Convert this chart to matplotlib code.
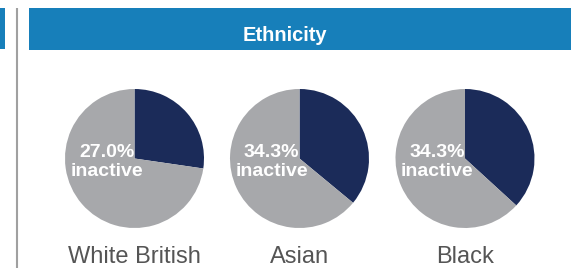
import matplotlib.pyplot as plt
from matplotlib.patches import Rectangle

plt.rcParams['font.family'] = ['Liberation Sans', 'DejaVu Sans']

# data
groups = ["White British", "Asian", "Black"]
inactive_label = [27.0, 34.3, 34.3]    # printed on the pies
inactive_slice = [27.3, 36.0, 36.8]    # share drawn as the dark slice
title = "Ethnicity"

NAVY = "#1b2b59"
GREY = "#a7a8ab"
BLUE = "#177fba"

W, H = 571, 268
fig = plt.figure(figsize=(W / 100, H / 100), dpi=100)
ax = fig.add_axes([0, 0, 1, 1])


def py(y):
    # pixel row (top = 0) -> data y
    return H - y


centers_x = [134.5, 299.5, 465.0]
cy = 158.5
radius = 69.5

for cx, pct, share, name in zip(centers_x, inactive_label, inactive_slice, groups):
    ax.pie([share, 100 - share], colors=[NAVY, GREY], startangle=90,
           counterclock=False, center=(cx, py(cy)), radius=radius,
           wedgeprops=dict(linewidth=0))
    ax.text(cx - 28, py(157), f"{pct:.1f}%", color="white", fontsize=14,
            fontweight="bold", ha="center", va="baseline")
    ax.text(cx - 28, py(176), "inactive", color="white", fontsize=14,
            fontweight="bold", ha="center", va="baseline")
    ax.text(cx, py(263), name, color="#555555", fontsize=17,
            ha="center", va="baseline")

# header bar + left decorations
ax.add_patch(Rectangle((28.5, py(50)), W - 28.5, 42, color=BLUE, lw=0))
ax.add_patch(Rectangle((0, py(49)), 5, 41, color=BLUE, lw=0))
ax.plot([16.7, 16.7], [py(8), py(268)], color="#a0a0a0", lw=1.5,
        solid_capstyle="butt")
ax.text(285, py(41), title, color="white", fontsize=14.5,
        fontweight="bold", ha="center", va="baseline")

ax.set_xlim(0, W)
ax.set_ylim(0, H)
ax.set_aspect("auto")
ax.axis("off")

fig.savefig("out.png", dpi=100)
